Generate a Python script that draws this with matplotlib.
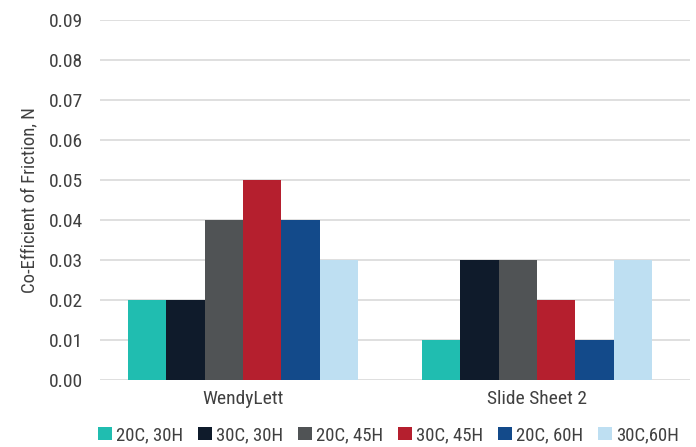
import numpy as np
import matplotlib.pyplot as plt
from matplotlib import font_manager

# data
categories = ["WendyLett", "Slide Sheet 2"]
series = ["20C, 30H", "30C, 30H", "20C, 45H", "30C, 45H", "20C, 60H", "30C,60H"]
values = [
    [0.02, 0.01],
    [0.02, 0.03],
    [0.04, 0.03],
    [0.05, 0.02],
    [0.04, 0.01],
    [0.03, 0.03],
]
colors = ["#20bdb0", "#0f1b2b", "#505355", "#b51f2e", "#134a8a", "#bedff2"]
yticks = np.arange(0, 0.091, 0.01)

# pick a narrow face if one is around
names = {f.name for f in font_manager.fontManager.ttflist}
fam = "Roboto"
for cand in ["Roboto Condensed", "Liberation Sans Narrow", "Open Sans Condensed"]:
    if cand in names:
        fam = cand
        break
plt.rcParams['font.family'] = [fam, 'DejaVu Sans']

fig = plt.figure(figsize=(6.96, 4.47), dpi=100)
ax = fig.add_axes([100/696, 67/447, 590/696, 360/447])

n = len(series)
bw = 0.782 / n
x = np.arange(len(categories))
for i, (name, vals) in enumerate(zip(series, values)):
    ax.bar(x - 0.391 + bw * (i + 0.5), vals, width=bw, color=colors[i],
           label=name, zorder=3)

ax.set_xlim(-0.486, 1.52)
ax.set_ylim(0, 0.09)
ax.set_yticks(yticks)
ax.set_yticklabels([f"{v:.2f}" for v in yticks], fontsize=14, color="#404040")
ax.set_xticks(x)
ax.set_xticklabels(categories, fontsize=14, color="#404040")
ax.tick_params(length=0, pad=7)
ax.tick_params(axis='y', pad=12)
ax.grid(axis='y', color="#d9d9d9", lw=1.2, zorder=0)
for s in ax.spines.values():
    s.set_visible(False)
ax.set_ylabel("Co-Efficient of Friction, N", fontsize=13.5, color="#404040", labelpad=8)

ax.legend(loc="center", bbox_to_anchor=(0.489, -0.153), ncol=6, frameon=False,
          fontsize=13.5, handlelength=0.75, handleheight=0.75, handletextpad=0.2,
          columnspacing=0.8, labelcolor="#404040")

fig.savefig("out.png", dpi=100)
